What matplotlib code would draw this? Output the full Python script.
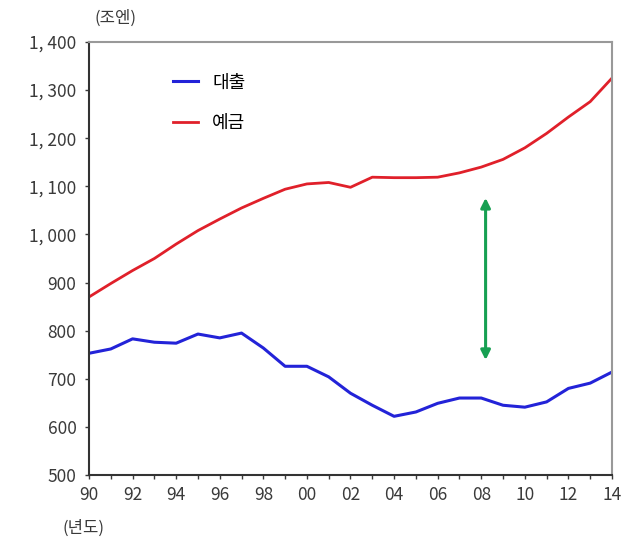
import matplotlib.pyplot as plt
import numpy as np

plt.rcParams['font.family'] = ['Noto Sans CJK KR', 'DejaVu Sans']

# 연도 (1990~2014), 단위: 조엔
years = np.arange(1990, 2015)
loans = [753, 762, 783, 776, 774, 793, 785, 795, 764, 726, 726, 704, 670,
         645, 622, 631, 649, 660, 660, 645, 641, 652, 680, 691, 714]
deposits = [870, 898, 925, 950, 980, 1008, 1032, 1055, 1075, 1094, 1105, 1108, 1098,
            1119, 1118, 1118, 1119, 1128, 1140, 1156, 1180, 1210, 1244, 1276, 1325]
gap_year = 2008.2
gap_top, gap_bottom = 1076, 739

fig = plt.figure(figsize=(6.28, 5.39), dpi=100)
ax = fig.add_axes([0.1417, 0.1187, 0.8328, 0.8034])

ax.plot(years, loans, color='#2323d8', lw=2.2, label='대출')
ax.plot(years, deposits, color='#e0202a', lw=2.0, label='예금')

# 예금-대출 격차 화살표
ax.annotate('', xy=(gap_year, gap_top), xytext=(gap_year, gap_bottom),
            arrowprops=dict(arrowstyle='<|-|>', color='#17a052', lw=2.2,
                            mutation_scale=14, shrinkA=0, shrinkB=0))

ax.set_xlim(1990, 2014)
ax.set_ylim(500, 1400)
ax.set_xticks(np.arange(1990, 2015, 2))
ax.set_xticklabels(['%02d' % (y % 100) for y in range(1990, 2015, 2)])
ax.set_xticks(np.arange(1990, 2015, 1), minor=True)
yt = np.arange(500, 1401, 100)
ax.set_yticks(yt)
ax.set_yticklabels(['{:,}'.format(v).replace(',', ', ') for v in yt])

ax.tick_params(axis='both', labelsize=12.5, colors='#3a3a3a', length=3, width=1)
ax.tick_params(axis='x', which='minor', length=3, width=1, color='#3a3a3a')
ax.tick_params(axis='x', pad=5)
ax.tick_params(axis='y', pad=6)

for s in ['top', 'right']:
    ax.spines[s].set_color('#999999')
    ax.spines[s].set_linewidth(1.5)
for s in ['left', 'bottom']:
    ax.spines[s].set_color('#333333')
    ax.spines[s].set_linewidth(1.5)

ax.legend(loc='upper left', bbox_to_anchor=(0.13, 0.965), frameon=False,
          fontsize=13, handlelength=1.35, labelspacing=1.25, handletextpad=0.8)

fig.text(0.15, 0.967, '(조엔)', fontsize=12, color='#3a3a3a', ha='left', va='center')
fig.text(0.10, 0.02, '(년도)', fontsize=12, color='#3a3a3a', ha='left', va='center')

fig.savefig('out.png', dpi=100)
